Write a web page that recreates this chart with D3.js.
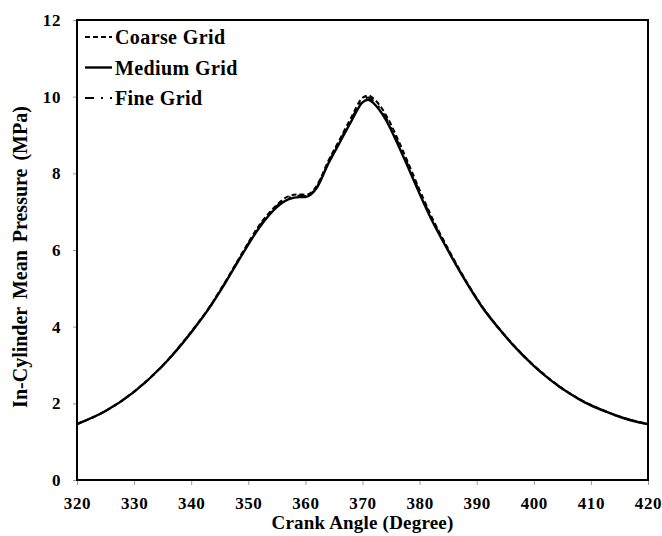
<!DOCTYPE html>
<html>
<head>
<meta charset="utf-8">
<script src="https://cdn.jsdelivr.net/npm/d3@7"></script>
<style>
body { margin: 0; background: #fff; }
text { font-family: "Liberation Serif", "Times New Roman", serif; font-weight: bold; }
</style>
</head>
<body>
<div id="viz"></div>
<script>
// crank angle (deg) and in-cylinder pressure (MPa)
var angles = [320, 325, 330, 335, 340, 343, 346, 349, 352, 355, 357, 359, 360, 361, 362, 364, 366, 368, 370, 371, 372, 374, 376, 378, 380, 382, 385, 388, 391, 394, 397, 400, 403, 406, 409, 412, 415, 418, 420];

var coarse = [1.46, 1.80, 2.31, 2.99, 3.87, 4.47, 5.18, 5.94, 6.66, 7.18, 7.40, 7.45, 7.44, 7.50, 7.68, 8.32, 8.88, 9.45, 9.97, 10.03, 9.94, 9.55, 8.95, 8.27, 7.57, 6.90, 6.03, 5.23, 4.52, 3.94, 3.43, 2.99, 2.61, 2.29, 2.03, 1.83, 1.66, 1.53, 1.46];
var medium = [1.46, 1.80, 2.30, 2.98, 3.85, 4.45, 5.15, 5.90, 6.60, 7.12, 7.32, 7.38, 7.38, 7.45, 7.62, 8.25, 8.80, 9.35, 9.85, 9.92, 9.82, 9.42, 8.82, 8.15, 7.47, 6.82, 5.98, 5.20, 4.50, 3.93, 3.42, 2.98, 2.60, 2.28, 2.02, 1.82, 1.65, 1.52, 1.46];
var fine = [1.46, 1.80, 2.30, 2.98, 3.86, 4.46, 5.16, 5.92, 6.63, 7.15, 7.36, 7.42, 7.41, 7.47, 7.65, 8.28, 8.84, 9.40, 9.91, 9.98, 9.88, 9.48, 8.88, 8.21, 7.52, 6.86, 6.00, 5.21, 4.51, 3.93, 3.42, 2.98, 2.60, 2.28, 2.02, 1.82, 1.65, 1.52, 1.46];

var xTicks = [320, 330, 340, 350, 360, 370, 380, 390, 400, 410, 420];
var yTicks = [0, 2, 4, 6, 8, 10, 12];

var series = [
	{name: "Coarse Grid", values: coarse, dash: "5,3", width: 2},
	{name: "Medium Grid", values: medium, dash: null, width: 2.4},
	{name: "Fine Grid", values: fine, dash: "9,7,2,7", width: 2}
];

var W = 662, H = 536;
var margin = {left: 77, right: 14, top: 20, bottom: 56};

var svg = d3.select("#viz")
	.append("svg")
	.attr("width", W)
	.attr("height", H);

var x = d3.scaleLinear().domain([320, 420]).range([margin.left, W - margin.right]);
var y = d3.scaleLinear().domain([0, 12]).range([H - margin.bottom, margin.top]);

// axes
var xAxis = svg.append("g")
	.attr("transform", "translate(0," + y(0) + ")")
	.call(d3.axisBottom(x).tickValues(xTicks).tickSize(5).tickPadding(9));
var yAxis = svg.append("g")
	.attr("transform", "translate(" + x(320) + ",0)")
	.call(d3.axisLeft(y).tickValues(yTicks).tickSize(4).tickPadding(12));

[xAxis, yAxis].forEach(function(a){
	a.select(".domain").remove();
	a.selectAll(".tick line").attr("stroke", "#999").attr("stroke-width", 1);
	a.selectAll(".tick text")
		.attr("fill", "#000")
		.style("font-size", "17px")
		.style("letter-spacing", "0.6px")
		.style("font-family", "Liberation Serif, serif")
		.style("font-weight", "bold");
});
xAxis.selectAll(".tick text").attr("dy", "0.9em");

// frame
svg.append("rect")
	.attr("x", x(320))
	.attr("y", y(12))
	.attr("width", x(420) - x(320))
	.attr("height", y(0) - y(12))
	.attr("fill", "none")
	.attr("stroke", "#000")
	.attr("stroke-width", 2);

// curves
var line = d3.line()
	.x(function(d){ return x(d[0]); })
	.y(function(d){ return y(d[1]); })
	.curve(d3.curveMonotoneX);

series.forEach(function(s){
	var pts = angles.map(function(a, i){ return [a, s.values[i]]; });
	svg.append("path")
		.datum(pts)
		.attr("d", line)
		.attr("fill", "none")
		.attr("stroke", "#000")
		.attr("stroke-width", s.width)
		.attr("stroke-dasharray", s.dash);
});

// legend
var legendY = [37, 67.5, 98];
var lg = svg.selectAll(".lg")
	.data(series)
	.enter()
	.append("g")
	.attr("transform", function(d, i){ return "translate(85," + legendY[i] + ")"; });
lg.append("line")
	.attr("x1", 0).attr("x2", 27)
	.attr("stroke", "#000")
	.attr("stroke-width", function(d){ return d.width; })
	.attr("stroke-dasharray", function(d){ return d.dash; });
lg.append("text")
	.attr("x", 30)
	.attr("dy", "0.35em")
	.style("font-size", "20px")
	.style("letter-spacing", "0.4px")
	.text(function(d){ return d.name; });

// titles
svg.append("text")
	.attr("x", (x(320) + x(420)) / 2)
	.attr("y", 529)
	.attr("text-anchor", "middle")
	.style("font-size", "19px")
	.style("letter-spacing", "0.2px")
	.text("Crank Angle (Degree)");

svg.append("text")
	.attr("transform", "translate(27,257) rotate(-90)")
	.attr("text-anchor", "middle")
	.style("font-size", "20px")
	.style("word-spacing", "3px")
	.text("In-Cylinder Mean Pressure (MPa)");
</script>
</body>
</html>
